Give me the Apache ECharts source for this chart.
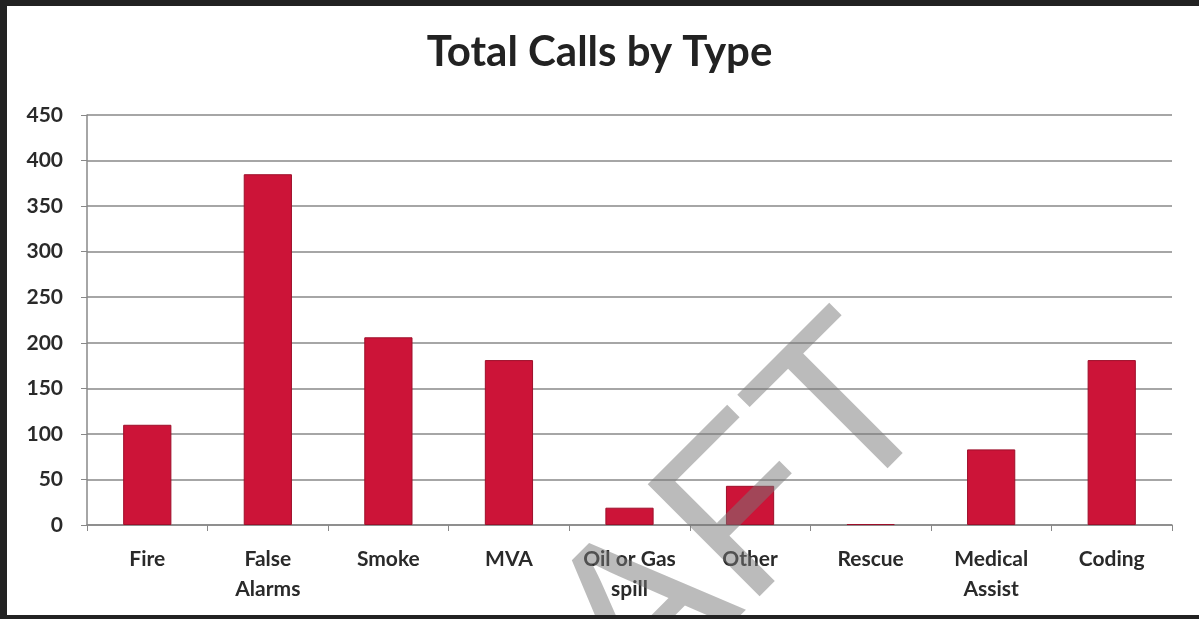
<!DOCTYPE html>
<html>
<head>
<meta charset="utf-8">
<script src="https://cdn.jsdelivr.net/npm/echarts@6/dist/echarts.min.js"></script>
<style>
  html, body { margin: 0; padding: 0; background: #fff; }
  #frame {
    position: absolute; left: 0; top: 0; width: 1199px; height: 619px;
    box-sizing: border-box;
    border-top: 6px solid #222; border-left: 7px solid #222; border-bottom: 4px solid #222;
  }
  #chart { position: absolute; left: 0; top: 0; width: 1199px; height: 619px; }
</style>
</head>
<body>
<div id="chart"></div>
<div id="frame"></div>
<script>
var categories = ['Fire', 'False\nAlarms', 'Smoke', 'MVA', 'Oil or Gas\nspill', 'Other', 'Rescue', 'Medical\nAssist', 'Coding'];
var calls = [110, 385, 206, 181, 19, 43, 1, 83, 181];
var yMax = 450;
var yStep = 50;

var chartDom = document.getElementById('chart');
var myChart = echarts.init(chartDom);
var option;

option = {
    animation: false,
    title: {
        text: 'Total Calls by Type',
        left: 'center',
        top: 26,
        textStyle: { fontFamily: 'Lato', fontWeight: 'bold', fontSize: 42, color: '#222' }
    },
    grid: { left: 87, right: 27, top: 115, bottom: 94 },
    xAxis: {
        type: 'category',
        data: categories,
        axisLine: { lineStyle: { color: '#888', width: 1.5 } },
        axisTick: { show: true, length: 6, lineStyle: { color: '#888' } },
        axisLabel: {
            interval: 0,
            fontFamily: 'Lato', fontWeight: 'bold', fontSize: 21, color: '#2a2a2a', margin: 19, lineHeight: 30
        }
    },
    yAxis: {
        type: 'value',
        min: 0,
        max: yMax,
        interval: yStep,
        axisLine: { show: true, lineStyle: { color: '#888', width: 1.5 } },
        axisTick: { show: true, length: 6, lineStyle: { color: '#888' } },
        axisLabel: { fontFamily: 'Lato', fontWeight: 'bold', fontSize: 21, color: '#2a2a2a', margin: 24 },
        splitLine: { lineStyle: { color: '#888', width: 1.5 } }
    },
    series: [
        {
            type: 'bar',
            data: calls,
            barWidth: '40%',
            itemStyle: { color: '#CC1438', borderColor: '#9e0f2a', borderWidth: 1 }
        }
    ],
    graphic: [
        {
            type: 'text',
            x: 900,
            y: 366,
            rotation: Math.PI / 4,
            z: 100,
            style: {
                text: 'DRAFT',
                x: 0, y: 0,
                align: 'right',
                verticalAlign: 'middle',
                font: '230px "Liberation Sans"',
                fill: 'rgba(120,120,120,0.5)'
            }
        }
    ]
};

option && myChart.setOption(option);
</script>
</body>
</html>
